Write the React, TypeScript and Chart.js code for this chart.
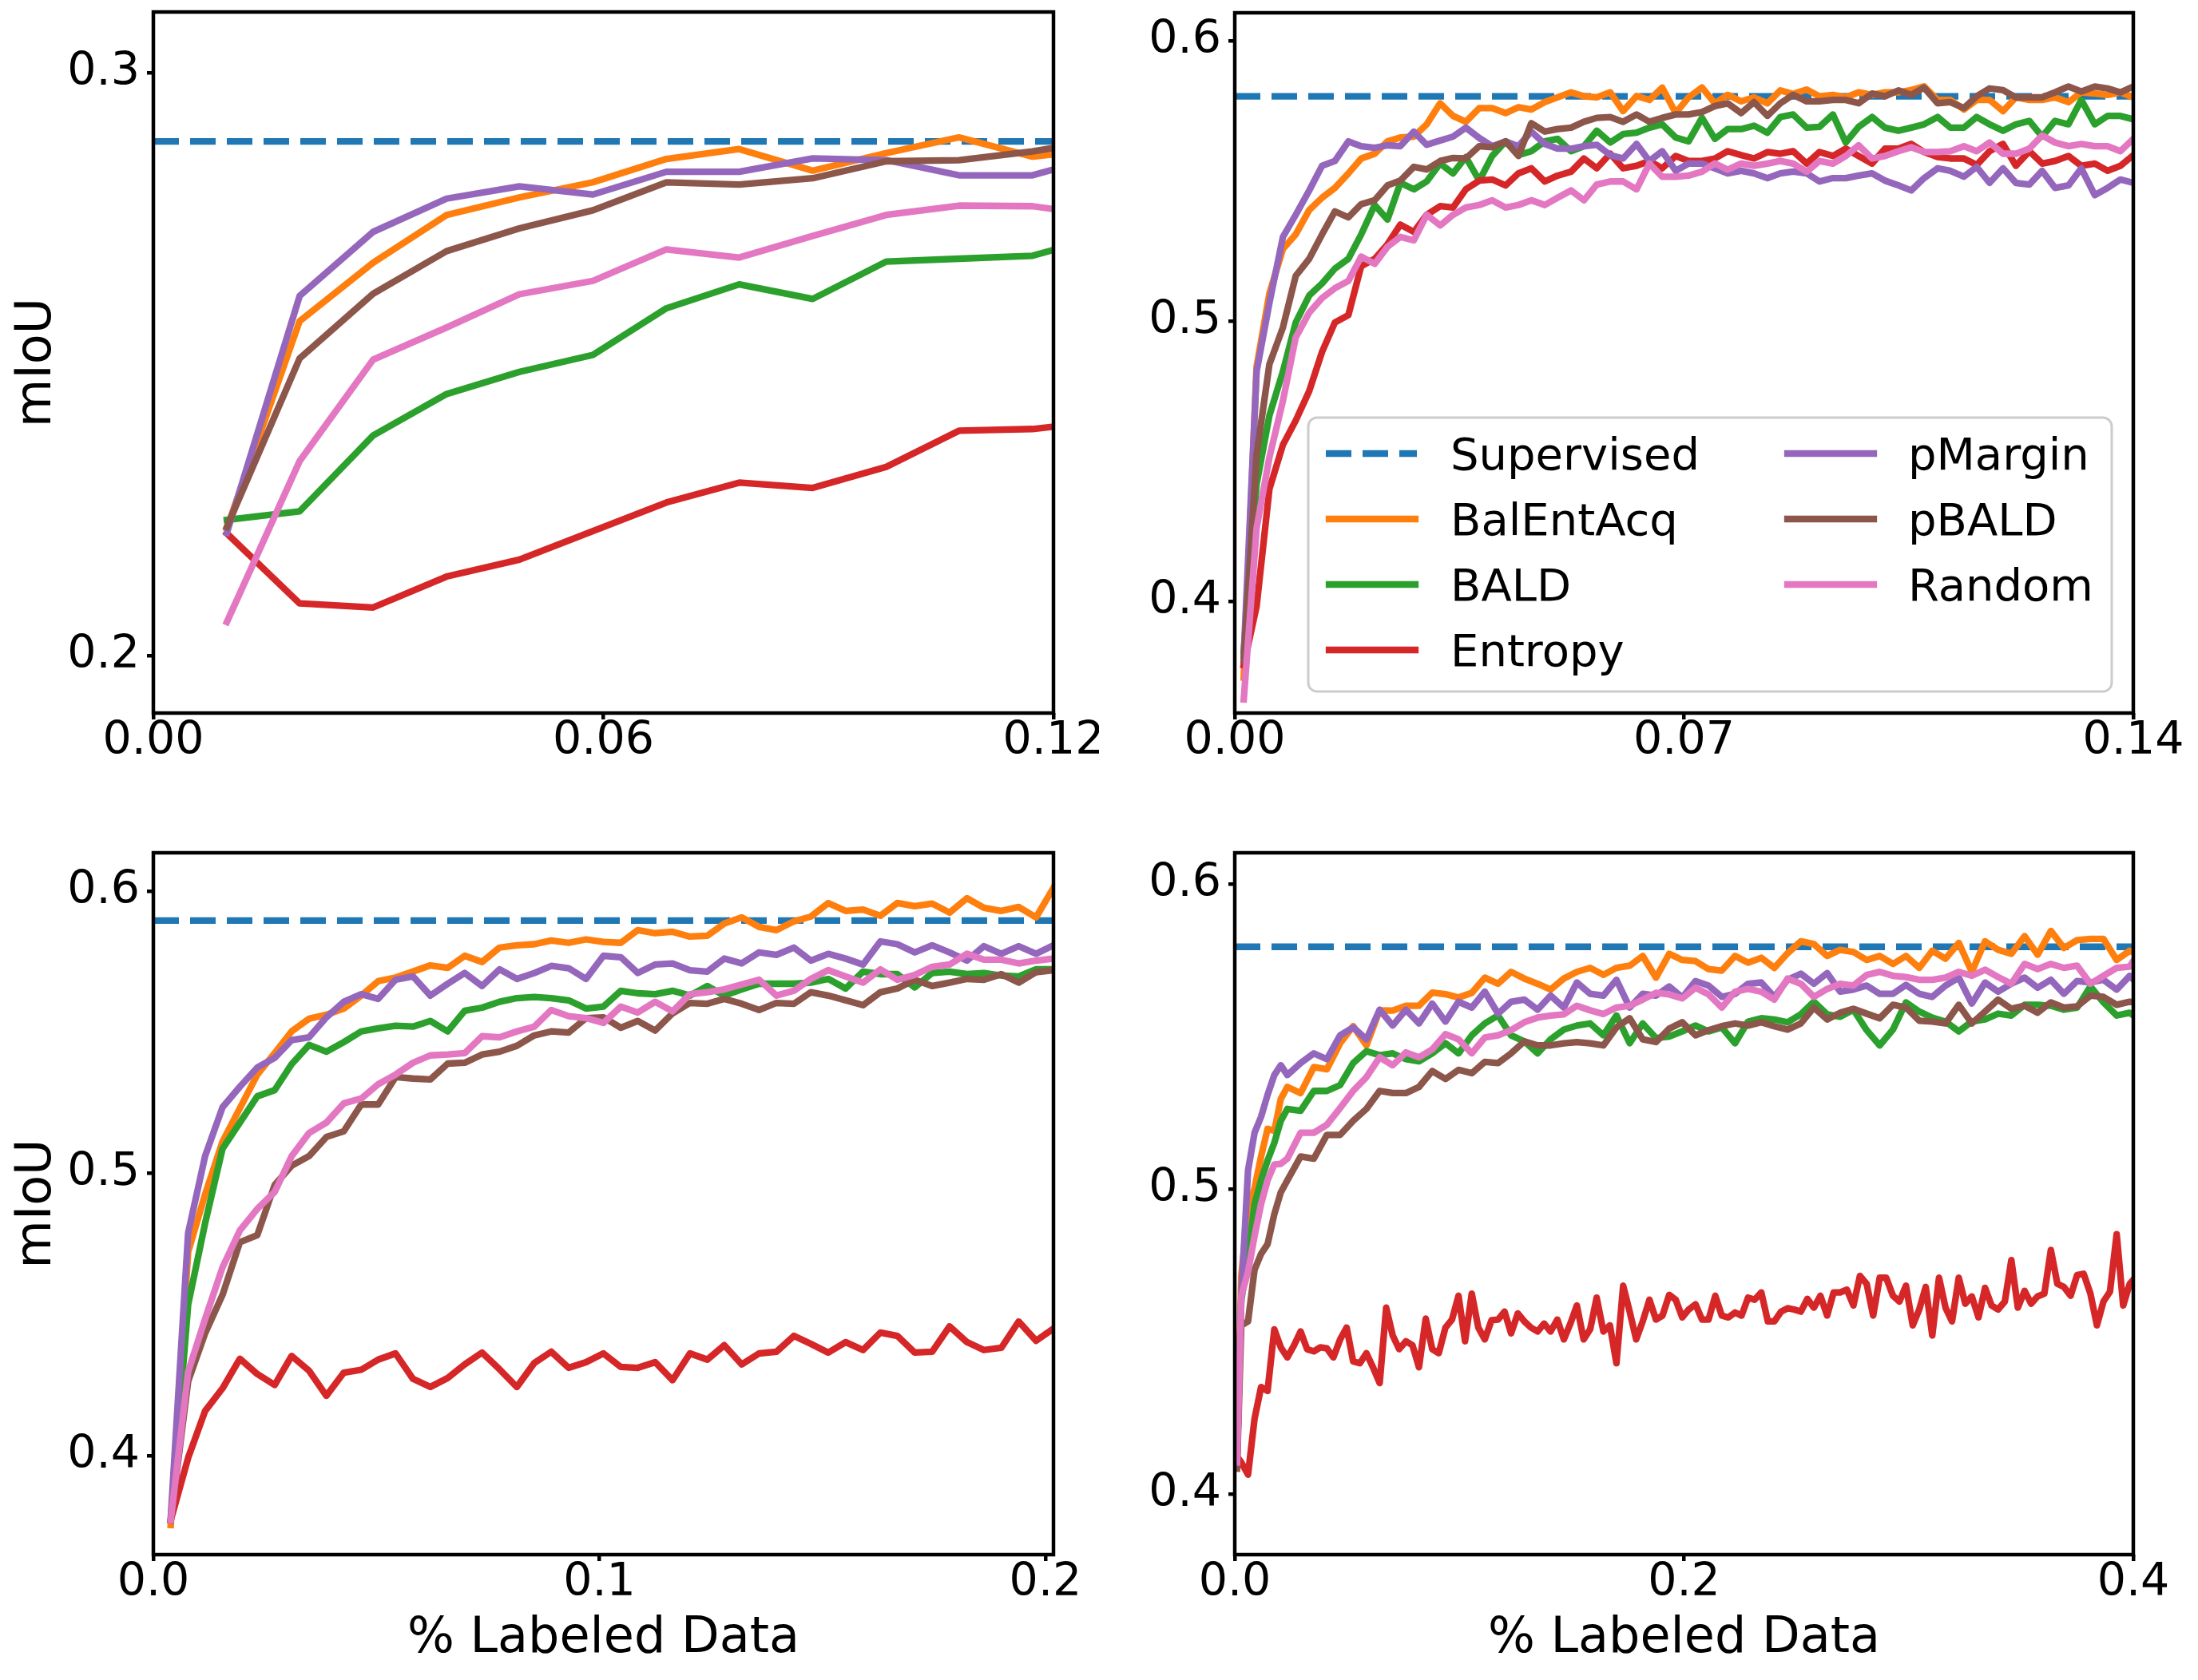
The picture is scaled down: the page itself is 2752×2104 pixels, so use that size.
import React, { useEffect, useRef } from "react";
import { Chart, registerables } from "chart.js";

Chart.register(...registerables);

const FONT = "'DejaVu Sans', 'Liberation Sans', sans-serif";
Chart.defaults.font.family = FONT;
Chart.defaults.font.size = 57;
Chart.defaults.color = "#000";

// series order follows the legend (Supervised first, Random last)
const seriesNames = ["Supervised", "BalEntAcq", "BALD", "Entropy", "pMargin", "pBALD", "Random"];
const seriesColors = ["#1f77b4", "#ff7f0e", "#2ca02c", "#d62728", "#9467bd", "#8c564b", "#e377c2"];

// ---------- top left ----------
const tlX = [0.0098, 0.0195, 0.0293, 0.0391, 0.0488, 0.0586, 0.0684, 0.0781, 0.0879, 0.0977, 0.1074, 0.1172, 0.12];
const tlSupervised = 0.2882;
const tlBalEntAcq = [0.2219, 0.2574, 0.2674, 0.2756, 0.2786, 0.2812, 0.2852, 0.2869, 0.2832, 0.2862, 0.2889, 0.2856, 0.286];
const tlBALD = [0.2233, 0.2248, 0.2378, 0.2449, 0.2487, 0.2516, 0.2596, 0.2637, 0.2612, 0.2676, 0.2681, 0.2686, 0.2696];
const tlEntropy = [0.221, 0.209, 0.2083, 0.2136, 0.2165, 0.2214, 0.2263, 0.2297, 0.2288, 0.2324, 0.2386, 0.2389, 0.2393];
const tlPMargin = [0.2211, 0.2617, 0.2727, 0.2784, 0.2805, 0.2791, 0.283, 0.283, 0.2853, 0.285, 0.2824, 0.2824, 0.2834];
const tlPBALD = [0.2221, 0.251, 0.2621, 0.2694, 0.2733, 0.2764, 0.2812, 0.2808, 0.2819, 0.2848, 0.285, 0.2865, 0.2871];
const tlRandom = [0.2058, 0.2334, 0.2508, 0.2563, 0.262, 0.2643, 0.2697, 0.2683, 0.272, 0.2756, 0.2772, 0.2771, 0.2766];
const tlXTicks = [0, 0.06, 0.12];
const tlXTickLabels = ["0.00", "0.06", "0.12"];
const tlYTicks = [0.2, 0.3];
const tlYTickLabels = ["0.2", "0.3"];

// ---------- top right ----------
const trX = [
  0.0014, 0.0034, 0.0054, 0.0075, 0.0095, 0.0116, 0.0136, 0.0156, 0.0177, 0.0197,
  0.0218, 0.0238, 0.0258, 0.0279, 0.0299, 0.032, 0.034, 0.036, 0.0381, 0.0401,
  0.0422, 0.0442, 0.0462, 0.0483, 0.0503, 0.0524, 0.0544, 0.0564, 0.0585, 0.0605,
  0.0626, 0.0646, 0.0666, 0.0687, 0.0707, 0.0728, 0.0748, 0.0768, 0.0789, 0.0809,
  0.083, 0.085, 0.087, 0.0891, 0.0911, 0.0932, 0.0952, 0.0972, 0.0993, 0.1013,
  0.1034, 0.1054, 0.1074, 0.1095, 0.1115, 0.1136, 0.1156, 0.1176, 0.1197, 0.1217,
  0.1238, 0.1258, 0.1278, 0.1299, 0.1319, 0.134, 0.136, 0.138, 0.14
];
const trSupervised = 0.5803;
const trBalEntAcq = [
  0.3729, 0.4838, 0.51, 0.5258, 0.531, 0.5397, 0.5441, 0.5476, 0.5528, 0.5581,
  0.5598, 0.5642, 0.5656, 0.5659, 0.5703, 0.5778, 0.5733, 0.5712, 0.5761, 0.5761,
  0.5743, 0.5764, 0.5756, 0.5782, 0.5799, 0.5817, 0.5803, 0.5799, 0.5817, 0.575,
  0.5804, 0.579, 0.5834, 0.5743, 0.5799, 0.5834, 0.5778, 0.5808, 0.5785, 0.5799,
  0.5778, 0.5824, 0.5811, 0.5827, 0.5803, 0.5808, 0.5799, 0.5817, 0.5808, 0.5817,
  0.5817, 0.5825, 0.5838, 0.579, 0.579, 0.5756, 0.579, 0.579, 0.575, 0.5799,
  0.579, 0.579, 0.5799, 0.5782, 0.5817, 0.5813, 0.5808, 0.5817, 0.5799
];
const trBALD = [
  0.3825, 0.4419, 0.4664, 0.4821, 0.4996, 0.5092, 0.5135, 0.5188, 0.5223, 0.531,
  0.5415, 0.5363, 0.5494, 0.5471, 0.5499, 0.5563, 0.5528, 0.5586, 0.5502, 0.559,
  0.5642, 0.5593, 0.5607, 0.5642, 0.5651, 0.5607, 0.5625, 0.568, 0.5638, 0.5668,
  0.5673, 0.5691, 0.5703, 0.5656, 0.5642, 0.5726, 0.5651, 0.5686, 0.5686, 0.5698,
  0.5673, 0.5729, 0.5738, 0.5691, 0.5694, 0.5738, 0.5638, 0.5694, 0.5729, 0.5691,
  0.568, 0.5691, 0.5703, 0.5729, 0.5691, 0.5691, 0.5729, 0.5703, 0.568, 0.5703,
  0.5715, 0.5659, 0.5715, 0.5703, 0.579, 0.5703, 0.5733, 0.5733, 0.5721
];
const trEntropy = [
  0.3773, 0.3983, 0.4402, 0.4559, 0.4646, 0.4751, 0.4891, 0.4996, 0.5022, 0.5197,
  0.5223, 0.5275, 0.5345, 0.5319, 0.538, 0.5411, 0.5406, 0.5471, 0.5502, 0.5506,
  0.5485, 0.5528, 0.5546, 0.5499, 0.552, 0.5534, 0.5581, 0.5546, 0.5598, 0.5546,
  0.5555, 0.5572, 0.5546, 0.559, 0.5572, 0.5572, 0.5581, 0.5607, 0.5593, 0.5581,
  0.5604, 0.5598, 0.5607, 0.5563, 0.5604, 0.559, 0.5616, 0.559, 0.5563, 0.5616,
  0.5616, 0.5633, 0.5604, 0.5586, 0.5581, 0.5581, 0.5558, 0.5607, 0.5633, 0.5555,
  0.5607, 0.5563, 0.5572, 0.559, 0.5555, 0.5563, 0.5537, 0.5555, 0.5593
];
const trPMargin = [
  0.3808, 0.4821, 0.5066, 0.5301, 0.538, 0.5467, 0.5555, 0.5572, 0.5642, 0.5625,
  0.5619, 0.5628, 0.5625, 0.5677, 0.563, 0.5645, 0.5659, 0.5691, 0.5654, 0.5625,
  0.5642, 0.5625, 0.5677, 0.5633, 0.5616, 0.5616, 0.5625, 0.563, 0.5593, 0.5581,
  0.5633, 0.5572, 0.5607, 0.5537, 0.5563, 0.5563, 0.5546, 0.5528, 0.5537, 0.5528,
  0.5511, 0.5528, 0.5534, 0.5528, 0.5499, 0.5511, 0.5511, 0.552, 0.5528, 0.5502,
  0.5485, 0.5467, 0.5511, 0.5546, 0.5537, 0.5516, 0.5551, 0.5494, 0.5546, 0.5494,
  0.5488, 0.5537, 0.5476, 0.5485, 0.5546, 0.545, 0.5476, 0.5506, 0.5494
];
const trPBALD = [
  0.379, 0.4524, 0.4847, 0.4978, 0.5162, 0.5223, 0.531, 0.5392, 0.5371, 0.5418,
  0.5432, 0.5485, 0.5502, 0.5551, 0.5542, 0.5572, 0.5583, 0.5581, 0.5625, 0.5621,
  0.5642, 0.559, 0.5707, 0.5677, 0.5686, 0.5691, 0.5712, 0.5726, 0.5729, 0.5712,
  0.5738, 0.5712, 0.5726, 0.5738, 0.5738, 0.5747, 0.5768, 0.5778, 0.5743, 0.5782,
  0.5733, 0.5778, 0.5808, 0.5785, 0.5785, 0.579, 0.579, 0.5778, 0.5813, 0.5803,
  0.5824, 0.5808, 0.5834, 0.5778, 0.5782, 0.5761, 0.5803, 0.5831, 0.5825, 0.5799,
  0.5799, 0.5799, 0.5817, 0.5838, 0.582, 0.5838, 0.5831, 0.5817, 0.5838
];
const trRandom = [
  0.3651, 0.4262, 0.4515, 0.4716, 0.4943, 0.5031, 0.5083, 0.5118, 0.5144, 0.5231,
  0.5205, 0.5266, 0.5301, 0.5289, 0.538, 0.5342, 0.538, 0.5406, 0.5415, 0.5432,
  0.5406, 0.5415, 0.5432, 0.5415, 0.5441, 0.5467, 0.5432, 0.5488, 0.5499, 0.5499,
  0.5471, 0.5563, 0.5516, 0.5516, 0.552, 0.5534, 0.5563, 0.5541, 0.5563, 0.5555,
  0.5563, 0.5572, 0.5563, 0.5534, 0.5572, 0.5563, 0.559, 0.5628, 0.5581, 0.559,
  0.5607, 0.5621, 0.5604, 0.5604, 0.5607, 0.5625, 0.5607, 0.5638, 0.5598, 0.5598,
  0.5616, 0.5663, 0.5638, 0.5625, 0.5633, 0.5625, 0.5625, 0.5607, 0.5651
];
const trXTicks = [0, 0.07, 0.14];
const trXTickLabels = ["0.00", "0.07", "0.14"];
const trYTicks = [0.4, 0.5, 0.6];
const trYTickLabels = ["0.4", "0.5", "0.6"];

// ---------- bottom left ----------
const blX = [
  0.0039, 0.0078, 0.0116, 0.0155, 0.0194, 0.0233, 0.0272, 0.031, 0.0349, 0.0388,
  0.0427, 0.0466, 0.0504, 0.0543, 0.0582, 0.0621, 0.066, 0.0698, 0.0737, 0.0776,
  0.0815, 0.0854, 0.0892, 0.0931, 0.097, 0.1009, 0.1048, 0.1086, 0.1125, 0.1164,
  0.1203, 0.1242, 0.128, 0.1319, 0.1358, 0.1397, 0.1436, 0.1474, 0.1513, 0.1552,
  0.1591, 0.163, 0.1668, 0.1707, 0.1746, 0.1785, 0.1824, 0.1862, 0.1901, 0.194,
  0.1979, 0.2018
];
const blSupervised = 0.5896;
const blBalEntAcq = [
  0.3754, 0.4722, 0.4925, 0.5112, 0.5231, 0.535, 0.5426, 0.5503, 0.5548, 0.5562,
  0.5584, 0.563, 0.5681, 0.5694, 0.5715, 0.5737, 0.5728, 0.5771, 0.5749, 0.58,
  0.5808, 0.5812, 0.5825, 0.5817, 0.5829, 0.582, 0.5817, 0.5862, 0.5851, 0.5856,
  0.5839, 0.5842, 0.5885, 0.5907, 0.5873, 0.5862, 0.5893, 0.591, 0.5958, 0.593,
  0.5935, 0.5913, 0.5958, 0.5947, 0.5956, 0.5924, 0.5975, 0.5941, 0.593, 0.5944,
  0.5907, 0.6012
];
const blBALD = [
  0.3771, 0.4535, 0.4823, 0.5087, 0.518, 0.5273, 0.5295, 0.5387, 0.5455, 0.5431,
  0.5465, 0.5503, 0.5514, 0.5523, 0.552, 0.554, 0.5503, 0.5576, 0.5587, 0.5608,
  0.5621, 0.5625, 0.5621, 0.5613, 0.5584, 0.5591, 0.5647, 0.5638, 0.5635, 0.5647,
  0.563, 0.5664, 0.563, 0.5652, 0.5672, 0.5672, 0.5672, 0.5676, 0.5689, 0.5655,
  0.5715, 0.5706, 0.5706, 0.5659, 0.571, 0.5715, 0.5706, 0.571, 0.5701, 0.5698,
  0.5723, 0.5723
];
const blEntropy = [
  0.3771, 0.3992, 0.4158, 0.4238, 0.4343, 0.4289, 0.425, 0.4353, 0.4301, 0.4212,
  0.4294, 0.4304, 0.434, 0.4362, 0.4272, 0.4243, 0.4275, 0.4323, 0.4365, 0.4306,
  0.4243, 0.4328, 0.4368, 0.4311, 0.4331, 0.4362, 0.4314, 0.4311, 0.4331, 0.4267,
  0.4362, 0.434, 0.4391, 0.4323, 0.4362, 0.4368, 0.4424, 0.4396, 0.4365, 0.4402,
  0.4374, 0.4436, 0.4424, 0.4365, 0.4368, 0.4458, 0.4402, 0.4374, 0.4382, 0.4475,
  0.4407, 0.445
];
const blPMargin = [
  0.3779, 0.4789, 0.5061, 0.5234, 0.5307, 0.5375, 0.5409, 0.5472, 0.5482, 0.5553,
  0.5608, 0.5635, 0.5618, 0.5686, 0.5698, 0.563, 0.5672, 0.571, 0.5664, 0.5723,
  0.5689, 0.571, 0.5735, 0.5727, 0.5689, 0.5771, 0.5766, 0.571, 0.574, 0.5744,
  0.572, 0.5715, 0.5761, 0.5744, 0.5783, 0.5774, 0.58, 0.5754, 0.5778, 0.5761,
  0.574, 0.5822, 0.5812, 0.5783, 0.5808, 0.5783, 0.5754, 0.5805, 0.5778, 0.5805,
  0.5778, 0.5808
];
const blPBALD = [
  0.3771, 0.4263, 0.4433, 0.4569, 0.4756, 0.4781, 0.4959, 0.5027, 0.5061, 0.5129,
  0.5149, 0.5244, 0.5244, 0.5341, 0.5336, 0.5333, 0.5389, 0.5392, 0.5421, 0.5431,
  0.5452, 0.5489, 0.5503, 0.5499, 0.555, 0.5553, 0.5516, 0.554, 0.5506, 0.5567,
  0.5604, 0.5601, 0.5618, 0.5601, 0.5579, 0.5604, 0.5601, 0.5642, 0.563, 0.5613,
  0.5596, 0.5642, 0.5655, 0.5686, 0.5664, 0.5676, 0.5689, 0.5686, 0.5706, 0.5676,
  0.5713, 0.572
];
const blRandom = [
  0.3771, 0.4297, 0.4484, 0.4667, 0.4798, 0.4874, 0.4934, 0.5061, 0.5143, 0.518,
  0.5248, 0.5265, 0.5316, 0.535, 0.5392, 0.5418, 0.5421, 0.5426, 0.5486, 0.5482,
  0.5503, 0.552, 0.5579, 0.5557, 0.555, 0.5533, 0.5591, 0.557, 0.5608, 0.5574,
  0.5635, 0.5642, 0.5652, 0.5669, 0.5686, 0.563, 0.5647, 0.5689, 0.572, 0.5698,
  0.5676, 0.5723, 0.5686, 0.5703, 0.5732, 0.574, 0.5778, 0.5757, 0.5757, 0.5744,
  0.5754, 0.5761
];
const blXTicks = [0, 0.1, 0.2];
const blXTickLabels = ["0.0", "0.1", "0.2"];
const blYTicks = [0.4, 0.5, 0.6];
const blYTickLabels = ["0.4", "0.5", "0.6"];

// ---------- bottom right ----------
// Entropy is read at every acquisition step, the other curves at every second one
const brXFull = [
  0.001, 0.0029, 0.0059, 0.0088, 0.0117, 0.0146, 0.0176, 0.0205, 0.0234, 0.0264, 0.0293,
  0.0322, 0.0352, 0.0381, 0.041, 0.0439, 0.0469, 0.0498, 0.0527, 0.0557, 0.0586,
  0.0615, 0.0645, 0.0674, 0.0703, 0.0732, 0.0762, 0.0791, 0.082, 0.085, 0.0879,
  0.0908, 0.0938, 0.0967, 0.0996, 0.1025, 0.1055, 0.1084, 0.1113, 0.1143, 0.1172,
  0.1201, 0.123, 0.126, 0.1289, 0.1318, 0.1348, 0.1377, 0.1406, 0.1436, 0.1465,
  0.1494, 0.1523, 0.1553, 0.1582, 0.1611, 0.1641, 0.167, 0.1699, 0.1729, 0.1758,
  0.1787, 0.1816, 0.1846, 0.1875, 0.1904, 0.1934, 0.1963, 0.1992, 0.2021, 0.2051,
  0.208, 0.2109, 0.2139, 0.2168, 0.2197, 0.2227, 0.2256, 0.2285, 0.2314, 0.2344,
  0.2373, 0.2402, 0.2432, 0.2461, 0.249, 0.252, 0.2549, 0.2578, 0.2607, 0.2637,
  0.2666, 0.2695, 0.2725, 0.2754, 0.2783, 0.2813, 0.2842, 0.2871, 0.29, 0.293,
  0.2959, 0.2988, 0.3018, 0.3047, 0.3076, 0.3105, 0.3135, 0.3164, 0.3193, 0.3223,
  0.3252, 0.3281, 0.3311, 0.334, 0.3369, 0.3398, 0.3428, 0.3457, 0.3486, 0.3516,
  0.3545, 0.3574, 0.3604, 0.3633, 0.3662, 0.3691, 0.3721, 0.375, 0.3779, 0.3809,
  0.3838, 0.3867, 0.3896, 0.3926, 0.3955, 0.3984, 0.4014
];
const brXHalf = [
  0.001, 0.0029, 0.0059, 0.0088, 0.0117, 0.0146, 0.0176, 0.0205, 0.0234,
  0.0293, 0.0352, 0.041, 0.0469, 0.0527, 0.0586, 0.0645, 0.0703, 0.0762, 0.082,
  0.0879, 0.0938, 0.0996, 0.1055, 0.1113, 0.1172, 0.123, 0.1289, 0.1348, 0.1406,
  0.1465, 0.1523, 0.1582, 0.1641, 0.1699, 0.1758, 0.1816, 0.1875, 0.1934, 0.1992,
  0.2051, 0.2109, 0.2168, 0.2227, 0.2285, 0.2344, 0.2402, 0.2461, 0.252, 0.2578,
  0.2637, 0.2695, 0.2754, 0.2813, 0.2871, 0.293, 0.2988, 0.3047, 0.3105, 0.3164,
  0.3223, 0.3281, 0.334, 0.3398, 0.3457, 0.3516, 0.3574, 0.3633, 0.3691, 0.375,
  0.3809, 0.3867, 0.3926, 0.3984, 0.4014
];
const brSupervised = 0.5794;
const brBalEntAcq = [
  0.4105, 0.4716, 0.4938, 0.5003, 0.5107, 0.5198, 0.5191, 0.5296, 0.5335,
  0.5315, 0.54, 0.5393, 0.5478, 0.5534, 0.5471, 0.5586, 0.5585, 0.5601, 0.5601,
  0.5644, 0.5639, 0.5628, 0.5643, 0.5693, 0.5673, 0.5712, 0.569, 0.5673, 0.5654,
  0.569, 0.5712, 0.5725, 0.5702, 0.5725, 0.5732, 0.5764, 0.5693, 0.5771, 0.5751,
  0.5747, 0.5721, 0.5716, 0.5764, 0.5742, 0.5758, 0.5725, 0.5773, 0.5812, 0.5803,
  0.5764, 0.5784, 0.5777, 0.5751, 0.5764, 0.5738, 0.5764, 0.5725, 0.5781, 0.5755,
  0.5807, 0.5712, 0.5812, 0.5784, 0.5771, 0.5829, 0.5768, 0.5846, 0.579, 0.5816,
  0.582, 0.582, 0.5751, 0.5781, 0.5771
];
const brBALD = [
  0.4118, 0.4638, 0.4768, 0.4951, 0.5029, 0.5094, 0.5152, 0.5224, 0.5263,
  0.5257, 0.5322, 0.5322, 0.5341, 0.5413, 0.5452, 0.5439, 0.5445, 0.5426, 0.5419,
  0.5445, 0.5478, 0.5445, 0.5504, 0.5543, 0.5569, 0.5504, 0.5484, 0.5445, 0.5491,
  0.5523, 0.5536, 0.5543, 0.5504, 0.5569, 0.5478, 0.5543, 0.5495, 0.55, 0.5517,
  0.5536, 0.5517, 0.553, 0.5478, 0.5549, 0.556, 0.5556, 0.5547, 0.5573, 0.5614,
  0.5573, 0.5565, 0.5588, 0.5521, 0.5471, 0.5523, 0.5612, 0.5582, 0.5562, 0.5549,
  0.5517, 0.5549, 0.5556, 0.5575, 0.5569, 0.5604, 0.5604, 0.5601, 0.5588, 0.5595,
  0.5664, 0.5612, 0.5569, 0.5578, 0.5562
];
const brEntropy = [
  0.4124, 0.4105, 0.4065, 0.4248, 0.4352, 0.4339, 0.4541, 0.4482, 0.4449, 0.4489, 0.4534,
  0.4476, 0.4469, 0.4482, 0.4479, 0.4449, 0.4508, 0.4547, 0.4436, 0.443, 0.4463,
  0.4417, 0.4365, 0.4612, 0.4521, 0.4476, 0.4502, 0.4489, 0.4417, 0.4576, 0.4476,
  0.4463, 0.4547, 0.4573, 0.4651, 0.4502, 0.4658, 0.4547, 0.4508, 0.4571, 0.4573,
  0.4599, 0.4528, 0.4593, 0.4567, 0.4547, 0.4534, 0.456, 0.4534, 0.4573, 0.4508,
  0.456, 0.4619, 0.4508, 0.4541, 0.4645, 0.4534, 0.4554, 0.443, 0.4684, 0.4599,
  0.4508, 0.4567, 0.4638, 0.4573, 0.4586, 0.4654, 0.4638, 0.458, 0.4606, 0.4623,
  0.4573, 0.4573, 0.4651, 0.4586, 0.458, 0.4596, 0.4586, 0.4645, 0.4638, 0.4662,
  0.4567, 0.4567, 0.4599, 0.461, 0.4606, 0.4599, 0.4641, 0.4612, 0.4651, 0.4586,
  0.4662, 0.4662, 0.4671, 0.4619, 0.4716, 0.469, 0.4586, 0.471, 0.471, 0.4651,
  0.4632, 0.4684, 0.4554, 0.4606, 0.468, 0.4521, 0.471, 0.4612, 0.4567, 0.471,
  0.4625, 0.4649, 0.458, 0.4677, 0.4619, 0.4606, 0.4632, 0.4768, 0.4612, 0.4667,
  0.4625, 0.4649, 0.4658, 0.4801, 0.469, 0.468, 0.4651, 0.4719, 0.4723, 0.4658,
  0.4554, 0.4632, 0.4664, 0.4853, 0.4619, 0.469, 0.4716
];
const brPMargin = [
  0.4105, 0.4651, 0.5061, 0.5185, 0.5237, 0.5309, 0.5374, 0.5406, 0.5374,
  0.5413, 0.5445, 0.5426, 0.5504, 0.553, 0.5491, 0.5588, 0.5536, 0.5588, 0.5543,
  0.5608, 0.5549, 0.5614, 0.5595, 0.5647, 0.5575, 0.5614, 0.5621, 0.5588, 0.5634,
  0.5595, 0.5677, 0.564, 0.5634, 0.5686, 0.5595, 0.564, 0.5634, 0.5664, 0.5628,
  0.5682, 0.5667, 0.563, 0.564, 0.5673, 0.5677, 0.563, 0.5686, 0.5706, 0.5673,
  0.5708, 0.5647, 0.5654, 0.5667, 0.564, 0.564, 0.5669, 0.564, 0.563, 0.5667,
  0.5693, 0.5608, 0.5677, 0.5647, 0.5673, 0.5693, 0.566, 0.5686, 0.564, 0.5682,
  0.5677, 0.5686, 0.5654, 0.5699, 0.5677
];
const brPBALD = [
  0.4085, 0.4554, 0.4567, 0.4736, 0.4788, 0.482, 0.4918, 0.499, 0.5029,
  0.5107, 0.51, 0.5178, 0.5178, 0.5224, 0.5263, 0.5322, 0.5315, 0.5315, 0.5335,
  0.5387, 0.5361, 0.5391, 0.538, 0.5417, 0.5413, 0.5445, 0.5484, 0.5471, 0.5471,
  0.5478, 0.5482, 0.5478, 0.5471, 0.553, 0.556, 0.5491, 0.5482, 0.5526, 0.5547,
  0.5504, 0.5521, 0.5534, 0.5543, 0.5536, 0.5547, 0.5534, 0.5523, 0.5543, 0.5595,
  0.5556, 0.5578, 0.5591, 0.5575, 0.556, 0.5604, 0.5595, 0.5552, 0.5549, 0.5543,
  0.5604, 0.5543, 0.5582, 0.5621, 0.5591, 0.5601, 0.5578, 0.5612, 0.5595, 0.5599,
  0.5634, 0.563, 0.5604, 0.5614, 0.5612
];
const brRandom = [
  0.4105, 0.4651, 0.4729, 0.4847, 0.4951, 0.5029, 0.5081, 0.5083, 0.51,
  0.5185, 0.5185, 0.5211, 0.5266, 0.5322, 0.5367, 0.5432, 0.5406, 0.5448, 0.5432,
  0.5458, 0.5508, 0.5491, 0.5445, 0.5497, 0.5504, 0.5521, 0.5547, 0.5562, 0.5569,
  0.5573, 0.5601, 0.5586, 0.5574, 0.5595, 0.5601, 0.5621, 0.5643, 0.5638, 0.5625,
  0.566, 0.5638, 0.5595, 0.5647, 0.5656, 0.5647, 0.5621, 0.569, 0.5673, 0.563,
  0.5656, 0.5673, 0.5667, 0.5702, 0.5712, 0.5699, 0.5695, 0.5686, 0.5686, 0.5693,
  0.5712, 0.5699, 0.5719, 0.5695, 0.5673, 0.5738, 0.5721, 0.5738, 0.5725, 0.5732,
  0.5673, 0.5699, 0.5725, 0.5729, 0.5764
];
const brXTicks = [0, 0.2, 0.4];
const brXTickLabels = ["0.0", "0.2", "0.4"];
const brYTicks = [0.4, 0.5, 0.6];
const brYTickLabels = ["0.4", "0.5", "0.6"];

const CANVAS_W = 1376;
const CANVAS_H = 1052;
const LINE_W = 8.3;
const TICK_FONT = 57;
const TITLE_FONT = 62;
const LEGEND_FONT = 56;

type Series = { x: number[]; y: number[] };

type PanelSpec = {
  left: number;
  top: number;
  padTop: number;
  padRight: number;
  axisLeft: number;
  axisBottom: number;
  xMin: number;
  xMax: number;
  yMin: number;
  yMax: number;
  xTicks: number[];
  xTickLabels: string[];
  yTicks: number[];
  yTickLabels: string[];
  supervised: number;
  series: Series[];
  yTitle: boolean;
  xTitle: boolean;
  legend: boolean;
};

// black box around the plot area (matplotlib spines)
const framePlugin = {
  id: "frame",
  afterDatasetsDraw(chart: any) {
    const { ctx, chartArea: a } = chart;
    ctx.save();
    ctx.strokeStyle = "#000";
    ctx.lineWidth = 4.5;
    ctx.strokeRect(a.left, a.top, a.right - a.left, a.bottom - a.top);
    ctx.restore();
  }
};

// two-column legend in the lower right corner, column-major like matplotlib
const boxLegendPlugin = {
  id: "boxLegend",
  afterDraw(chart: any, _args: any, opts: any) {
    if (!opts || !opts.display) return;
    const { ctx, chartArea: a } = chart;
    const w = 1006;
    const h = 343;
    const x0 = a.right - 27 - w;
    const y0 = a.bottom - 27 - h;
    ctx.save();
    ctx.beginPath();
    ctx.roundRect(x0, y0, w, h, 11);
    ctx.fillStyle = "rgba(255,255,255,0.8)";
    ctx.fill();
    ctx.lineWidth = 3;
    ctx.strokeStyle = "#cccccc";
    ctx.stroke();

    ctx.font = `${LEGEND_FONT}px ${FONT}`;
    ctx.textBaseline = "alphabetic";
    ctx.textAlign = "left";
    chart.data.datasets.forEach((ds: any, i: number) => {
      const col = i < 4 ? 0 : 1;
      const row = i < 4 ? i : i - 4;
      const cy = y0 + 45 + row * 82;
      const hx = x0 + (col ? 596 : 22);
      ctx.beginPath();
      ctx.lineWidth = LINE_W;
      ctx.strokeStyle = ds.borderColor;
      if (ds.borderDash) {
        ctx.setLineDash(ds.borderDash);
        ctx.lineCap = "butt";
        ctx.moveTo(hx, cy);
        ctx.lineTo(hx + 114, cy);
      } else {
        ctx.setLineDash([]);
        ctx.lineCap = "square";
        ctx.moveTo(hx + 4, cy);
        ctx.lineTo(hx + 112, cy);
      }
      ctx.stroke();
      ctx.setLineDash([]);
      ctx.fillStyle = "#000";
      ctx.fillText(ds.label, x0 + (col ? 751 : 178), cy + 20.4);
    });
    ctx.restore();
  }
};

function buildConfig(spec: PanelSpec): any {
  const datasets: any[] = [
    {
      label: seriesNames[0],
      data: [
        { x: spec.xMin, y: spec.supervised },
        { x: spec.xMax, y: spec.supervised }
      ],
      borderColor: seriesColors[0],
      borderDash: [32, 14],
      borderCapStyle: "butt",
      order: 6
    },
    ...spec.series.map((s, i) => ({
      label: seriesNames[i + 1],
      data: s.x.map((x, j) => ({ x, y: s.y[j] })),
      borderColor: seriesColors[i + 1],
      borderCapStyle: "square",
      order: 5 - i
    }))
  ];

  const tickGrid = {
    display: true,
    drawOnChartArea: false,
    drawTicks: true,
    tickLength: 8,
    tickWidth: 4.5,
    tickColor: "#000",
    lineWidth: 4.5,
    color: "#000"
  };

  return {
    type: "line",
    data: { datasets },
    options: {
      animation: false,
      responsive: false,
      devicePixelRatio: 1,
      layout: { padding: { top: spec.padTop, right: spec.padRight, left: 0, bottom: 0 } },
      elements: {
        point: { radius: 0 },
        line: { borderWidth: LINE_W, tension: 0, fill: false, borderJoinStyle: "round" }
      },
      plugins: {
        legend: { display: false },
        tooltip: { enabled: false },
        boxLegend: { display: spec.legend }
      },
      scales: {
        x: {
          type: "linear",
          min: spec.xMin,
          max: spec.xMax,
          afterBuildTicks: (s: any) => {
            s.ticks = spec.xTicks.map((v) => ({ value: v }));
          },
          afterFit: (s: any) => {
            s.height = spec.axisBottom;
            s.paddingLeft = 0;
            s.paddingRight = 0;
          },
          ticks: {
            callback: (_v: any, i: number) => spec.xTickLabels[i],
            color: "#000",
            font: { size: TICK_FONT, lineHeight: 1 },
            padding: 0,
            maxRotation: 0,
            autoSkip: false
          },
          grid: tickGrid,
          border: { display: false },
          title: {
            display: spec.xTitle,
            text: "% Labeled Data",
            color: "#000",
            font: { size: TITLE_FONT },
            padding: { top: 0, bottom: 14 }
          }
        },
        y: {
          type: "linear",
          min: spec.yMin,
          max: spec.yMax,
          afterBuildTicks: (s: any) => {
            s.ticks = spec.yTicks.map((v) => ({ value: v }));
          },
          afterFit: (s: any) => {
            s.width = spec.axisLeft;
            s.paddingTop = 0;
            s.paddingBottom = 0;
          },
          ticks: {
            callback: (_v: any, i: number) => spec.yTickLabels[i],
            color: "#000",
            font: { size: TICK_FONT },
            padding: 9,
            autoSkip: false
          },
          grid: tickGrid,
          border: { display: false },
          title: {
            display: spec.yTitle,
            text: "mIoU",
            color: "#000",
            font: { size: TITLE_FONT },
            padding: { top: 10, bottom: 0 }
          }
        }
      }
    },
    plugins: [framePlugin, boxLegendPlugin]
  };
}

const Panel: React.FC<{ spec: PanelSpec }> = ({ spec }) => {
  const canvasRef = useRef<HTMLCanvasElement>(null);

  useEffect(() => {
    if (!canvasRef.current) return;
    const chart = new Chart(canvasRef.current, buildConfig(spec));
    return () => {
      chart.destroy();
    };
  }, [spec]);

  return (
    <canvas
      ref={canvasRef}
      width={CANVAS_W}
      height={CANVAS_H}
      style={{ position: "absolute", left: spec.left, top: spec.top, width: CANVAS_W, height: CANVAS_H }}
    />
  );
};

const panels: PanelSpec[] = [
  {
    left: 0, top: 0, padTop: 15, padRight: 57, axisLeft: 192, axisBottom: 159,
    xMin: 0, xMax: 0.12, yMin: 0.1902, yMax: 0.3104,
    xTicks: tlXTicks, xTickLabels: tlXTickLabels, yTicks: tlYTicks, yTickLabels: tlYTickLabels,
    supervised: tlSupervised,
    series: [
      { x: tlX, y: tlBalEntAcq },
      { x: tlX, y: tlBALD },
      { x: tlX, y: tlEntropy },
      { x: tlX, y: tlPMargin },
      { x: tlX, y: tlPBALD },
      { x: tlX, y: tlRandom }
    ],
    yTitle: true, xTitle: false, legend: false
  },
  {
    left: CANVAS_W, top: 0, padTop: 16, padRight: 81, axisLeft: 170, axisBottom: 159,
    xMin: 0, xMax: 0.14, yMin: 0.3602, yMax: 0.6101,
    xTicks: trXTicks, xTickLabels: trXTickLabels, yTicks: trYTicks, yTickLabels: trYTickLabels,
    supervised: trSupervised,
    series: [
      { x: trX, y: trBalEntAcq },
      { x: trX, y: trBALD },
      { x: trX, y: trEntropy },
      { x: trX, y: trPMargin },
      { x: trX, y: trPBALD },
      { x: trX, y: trRandom }
    ],
    yTitle: false, xTitle: false, legend: true
  },
  {
    left: 0, top: CANVAS_H, padTop: 16, padRight: 57, axisLeft: 192, axisBottom: 157,
    xMin: 0, xMax: 0.2018, yMin: 0.3649, yMax: 0.6136,
    xTicks: blXTicks, xTickLabels: blXTickLabels, yTicks: blYTicks, yTickLabels: blYTickLabels,
    supervised: blSupervised,
    series: [
      { x: blX, y: blBalEntAcq },
      { x: blX, y: blBALD },
      { x: blX, y: blEntropy },
      { x: blX, y: blPMargin },
      { x: blX, y: blPBALD },
      { x: blX, y: blRandom }
    ],
    yTitle: true, xTitle: true, legend: false
  },
  {
    left: CANVAS_W, top: CANVAS_H, padTop: 16, padRight: 81, axisLeft: 170, axisBottom: 157,
    xMin: 0, xMax: 0.4, yMin: 0.3803, yMax: 0.6102,
    xTicks: brXTicks, xTickLabels: brXTickLabels, yTicks: brYTicks, yTickLabels: brYTickLabels,
    supervised: brSupervised,
    series: [
      { x: brXHalf, y: brBalEntAcq },
      { x: brXHalf, y: brBALD },
      { x: brXFull, y: brEntropy },
      { x: brXHalf, y: brPMargin },
      { x: brXHalf, y: brPBALD },
      { x: brXHalf, y: brRandom }
    ],
    yTitle: false, xTitle: true, legend: false
  }
];

const App: React.FC = () => {
  return (
    <div
      style={{
        position: "absolute",
        left: 0,
        top: 0,
        width: CANVAS_W * 2,
        height: CANVAS_H * 2,
        background: "#fff",
        overflow: "hidden"
      }}
    >
      {panels.map((p, i) => (
        <Panel key={i} spec={p} />
      ))}
    </div>
  );
};

export default App;
